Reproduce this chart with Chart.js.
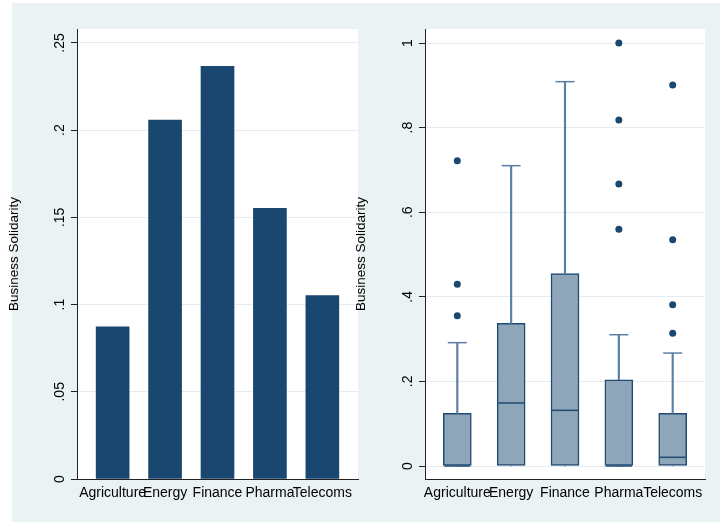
<!DOCTYPE html>
<html>
<head>
<meta charset="utf-8">
<script src="https://cdn.jsdelivr.net/npm/chart.js@4/dist/chart.umd.min.js"></script>
<style>
  body { margin: 0; background: #fff; }
  #bg { position: absolute; left: 12px; top: 3px; width: 708px; height: 519px; background: #eaf2f3; }
  #barChart { position: absolute; left: 0; top: 0; }
  #boxChart { position: absolute; left: 345px; top: 0; }
</style>
</head>
<body>
<div id="bg"></div>
<canvas id="barChart" width="360" height="522"></canvas>
<canvas id="boxChart" width="375" height="522"></canvas>
<script>
// sectors on both panels
const categories = ['Agriculture', 'Energy', 'Finance', 'Pharma', 'Telecoms'];

// left panel: mean business solidarity
const meanSolidarity = [0.0873, 0.2058, 0.2366, 0.1552, 0.1051];
const barTickValues = [0, 0.05, 0.1, 0.15, 0.2, 0.25];
const barTickLabels = ['0', '.05', '.1', '.15', '.2', '.25'];

// right panel: box plot summary
const whiskerLow = [0, 0, 0, 0, 0];
const boxQ1 = [0, 0, 0, 0, 0];
const boxMedian = [0, 0.149, 0.1316, 0, 0.0206];
const boxQ3 = [0.1246, 0.3373, 0.4547, 0.204, 0.1246];
const whiskerHigh = [0.2916, 0.710, 0.9086, 0.3104, 0.267];
const outliers = [
    [0.7218, 0.4295, 0.3553],
    [],
    [],
    [1.0, 0.818, 0.6667, 0.5595],
    [0.9007, 0.535, 0.3813, 0.3137]
];
const boxTickValues = [0, 0.2, 0.4, 0.6, 0.8, 1];
const boxTickLabels = ['0', '.2', '.4', '.6', '.8', '1'];

const navy = '#1a476f';
const whiskerColor = '#5a7fa5';
const axisColor = '#222';
const gridColor = '#e4ecef';
const fontFamily = 'Arial, "Liberation Sans", sans-serif';

Chart.defaults.font.family = fontFamily;
Chart.defaults.font.size = 14;
Chart.defaults.color = '#000';

// white plot region
const plotBackground = {
    id: 'plotBackground',
    beforeDraw(chart) {
        const a = chart.chartArea;
        chart.ctx.save();
        chart.ctx.fillStyle = '#fff';
        chart.ctx.fillRect(a.left, a.top, a.right - a.left, a.bottom - a.top);
        chart.ctx.restore();
    }
};

// Stata style vertical y tick labels
function rotatedYLabels(values, labels) {
    return {
        id: 'rotatedYLabels',
        afterDraw(chart) {
            const y = chart.scales.y;
            const ctx = chart.ctx;
            ctx.save();
            ctx.fillStyle = '#000';
            ctx.font = '14px ' + fontFamily;
            ctx.textAlign = 'center';
            ctx.textBaseline = 'middle';
            values.forEach((v, i) => {
                ctx.save();
                ctx.translate(chart.chartArea.left - 17, y.getPixelForValue(v));
                ctx.rotate(-Math.PI / 2);
                ctx.fillText(labels[i], 0, 0);
                ctx.restore();
            });
            ctx.restore();
        }
    };
}

function xAxis(min, max) {
    return {
        type: 'linear',
        min: min,
        max: max,
        offset: false,
        afterBuildTicks: (scale) => { scale.ticks = categories.map((c, i) => ({ value: i })); },
        afterFit: (scale) => { scale.height = 43; },
        grid: { display: false, drawTicks: false },
        border: { color: axisColor, width: 1 },
        ticks: {
            autoSkip: false,
            minRotation: 0,
            maxRotation: 0,
            padding: 6,
            callback: (value, index) => categories[index]
        }
    };
}

function yAxis(min, max, tickValues, width, titlePad) {
    return {
        min: min,
        max: max,
        afterBuildTicks: (scale) => { scale.ticks = tickValues.map(v => ({ value: v })); },
        afterFit: (scale) => { scale.width = width; },
        grid: { color: gridColor, tickColor: axisColor, tickLength: 6, drawTicks: true },
        border: { color: axisColor, width: 1 },
        ticks: { display: false },
        title: {
            display: true,
            text: 'Business Solidarity',
            font: { size: 13.5 },
            padding: { top: titlePad, bottom: 0 }
        }
    };
}

new Chart(document.getElementById('barChart'), {
    type: 'bar',
    data: {
        datasets: [{
            data: categories.map((c, i) => ({ x: i, y: meanSolidarity[i] })),
            backgroundColor: navy,
            borderWidth: 0,
            barThickness: 33
        }]
    },
    options: {
        responsive: false,
        animation: false,
        events: [],
        layout: { padding: { top: 29, right: 2, left: 0, bottom: 0 } },
        plugins: { legend: { display: false }, tooltip: { enabled: false } },
        scales: {
            x: xAxis(-0.68, 4.68),
            y: yAxis(0, 0.258, barTickValues, 77, 6)
        }
    },
    plugins: [plotBackground, rotatedYLabels(barTickValues, barTickLabels)]
});

const outlierPoints = [];
outliers.forEach((list, i) => list.forEach(v => outlierPoints.push({ x: i, y: v })));

new Chart(document.getElementById('boxChart'), {
    type: 'bar',
    data: {
        datasets: [
            {
                // boxes
                data: categories.map((c, i) => ({ x: i, y: [boxQ1[i], boxQ3[i]] })),
                backgroundColor: '#8fa5ba',
                borderColor: '#1f4a72',
                borderWidth: 1.5,
                borderSkipped: false,
                barThickness: 28,
                maxBarThickness: 28,
                grouped: false,
                order: 3
            },
            {
                // upper whiskers
                data: categories.map((c, i) => ({ x: i, y: [boxQ3[i], whiskerHigh[i]] })),
                backgroundColor: whiskerColor,
                borderWidth: 0,
                barThickness: 1.5,
                maxBarThickness: 1.5,
                grouped: false,
                order: 2
            },
            {
                // lower whiskers
                data: categories.map((c, i) => ({ x: i, y: [whiskerLow[i], boxQ1[i]] })),
                backgroundColor: whiskerColor,
                borderWidth: 0,
                barThickness: 1.5,
                maxBarThickness: 1.5,
                grouped: false,
                order: 2
            },
            {
                // whisker caps
                type: 'scatter',
                data: categories.map((c, i) => ({ x: i, y: whiskerHigh[i] })),
                pointStyle: 'line',
                pointRadius: 9.5,
                borderColor: whiskerColor,
                borderWidth: 1.5,
                order: 1
            },
            {
                // medians
                type: 'scatter',
                data: categories.map((c, i) => ({ x: i, y: boxMedian[i] })),
                pointStyle: 'line',
                pointRadius: 13,
                borderColor: '#1f4a72',
                borderWidth: 1.5,
                order: 1
            },
            {
                // outside values
                type: 'scatter',
                data: outlierPoints,
                pointStyle: 'circle',
                pointRadius: 3.5,
                backgroundColor: navy,
                borderColor: navy,
                borderWidth: 0,
                order: 1
            }
        ]
    },
    options: {
        responsive: false,
        animation: false,
        events: [],
        layout: { padding: { top: 29, right: 15, left: 0, bottom: 0 } },
        plugins: { legend: { display: false }, tooltip: { enabled: false } },
        scales: {
            x: xAxis(-0.6, 4.6),
            y: yAxis(-0.0307, 1.0331, boxTickValues, 80, 8)
        }
    },
    plugins: [plotBackground, rotatedYLabels(boxTickValues, boxTickLabels)]
});
</script>
</body>
</html>
